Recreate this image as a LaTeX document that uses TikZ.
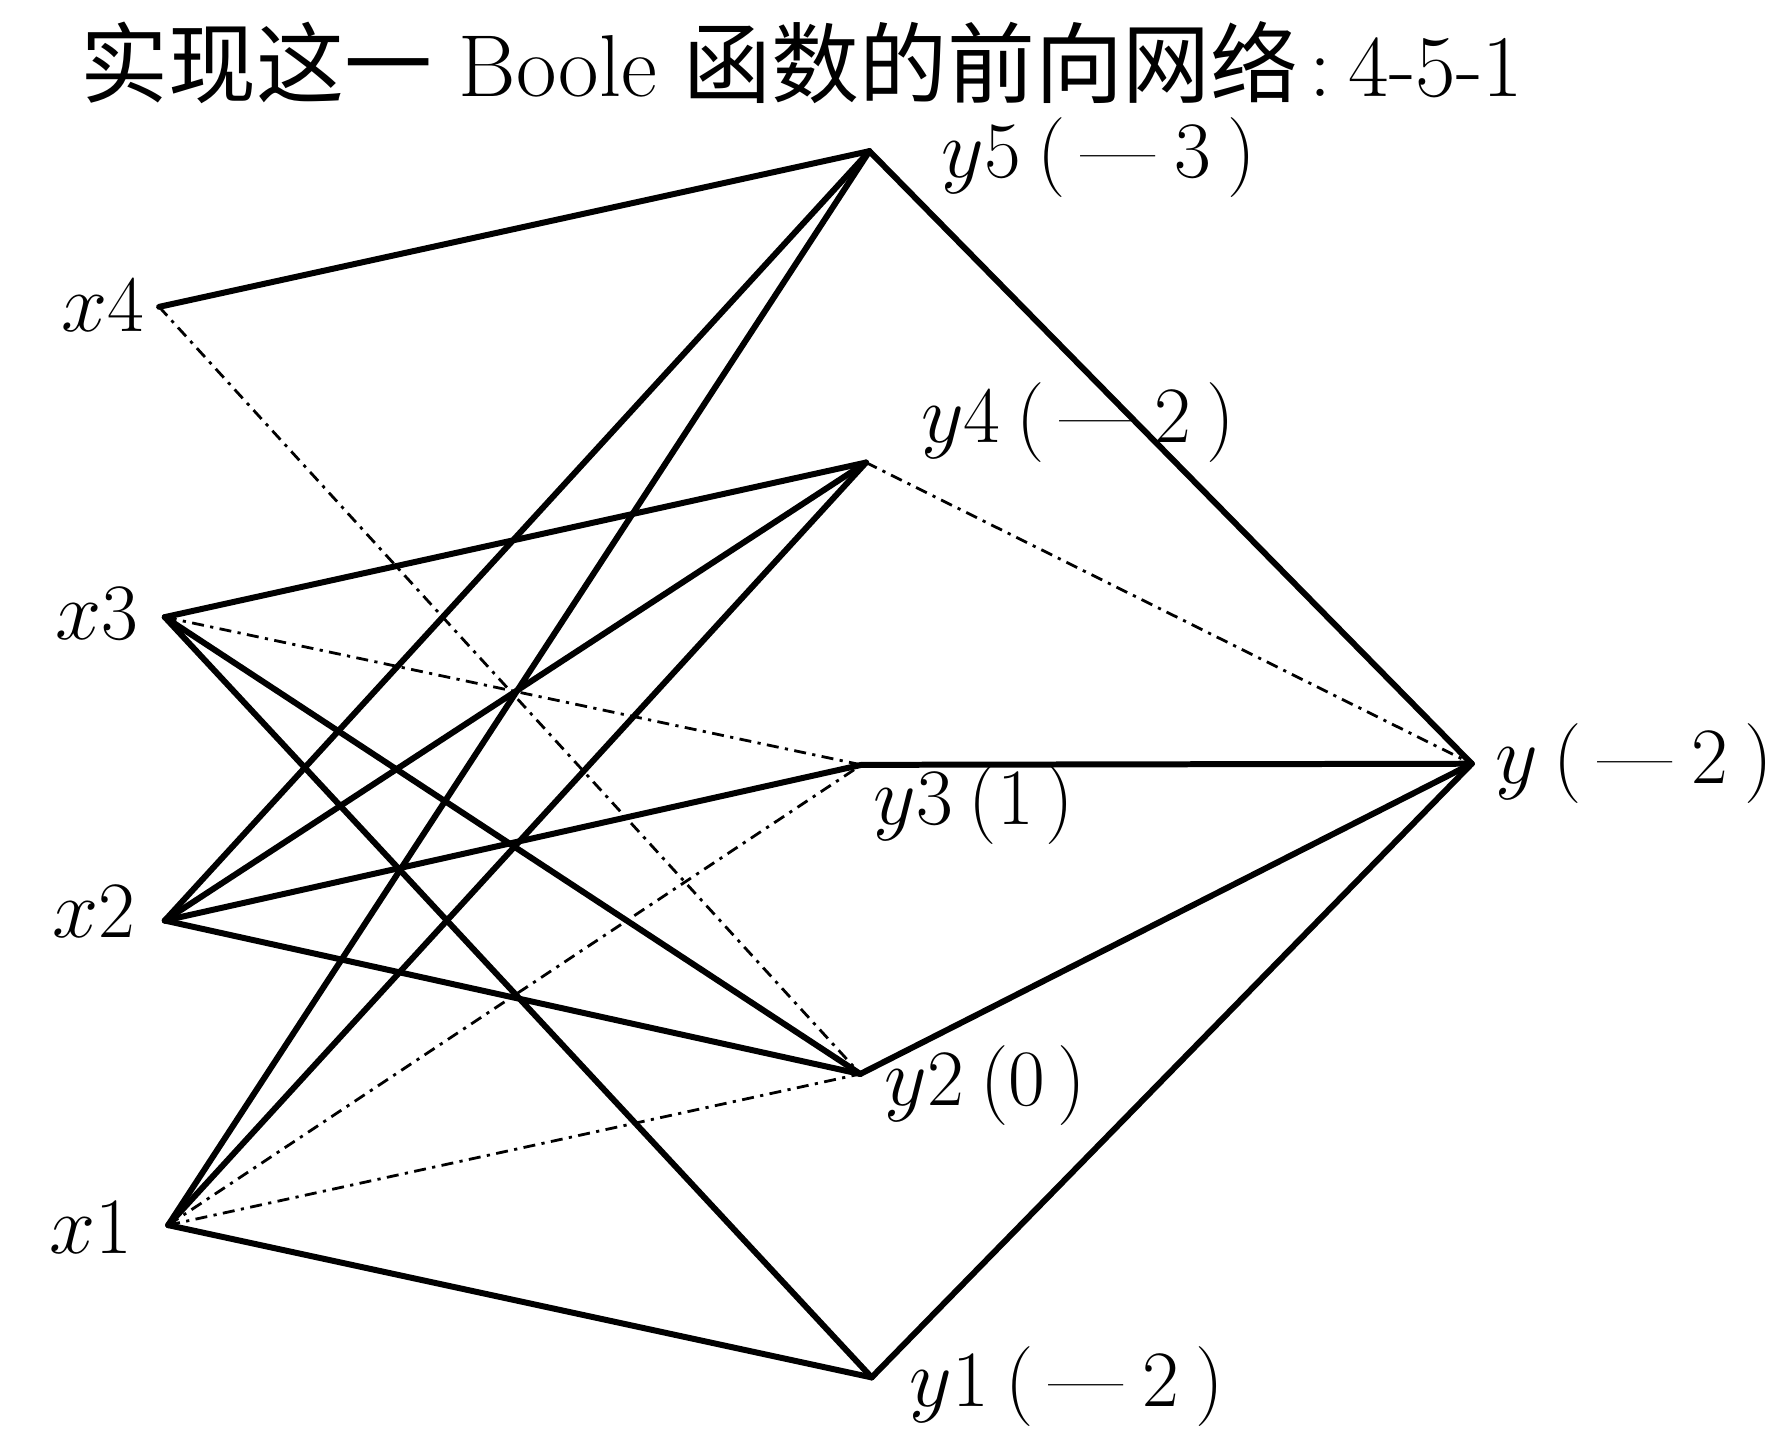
\documentclass[tikz,border=0pt]{standalone}
\usepackage{fontspec}
\newfontfamily\cjk{Noto Sans CJK SC}
\begin{document}
\begin{tikzpicture}[x=0.01cm,y=-0.01cm,
  solidedge/.style={line width=1.5pt,line cap=round,line join=round},
  dotedge/.style={line width=0.7pt,dash pattern=on 3pt off 1.6pt on 0.8pt off 1.6pt},
  lab/.style={inner sep=0pt,font=\fontsize{20}{24}\selectfont},
  titlelab/.style={inner sep=0pt,font=\fontsize{22}{26}\selectfont}]
\useasboundingbox (0,0) rectangle (1568,1266);
% vertices
\coordinate (x4) at (140,270);
\coordinate (x3) at (145,543);
\coordinate (x2) at (145,810);
\coordinate (x1) at (148,1078);
\coordinate (y5) at (765,133);
\coordinate (y4) at (762,407);
\coordinate (y3) at (758,673);
\coordinate (y2) at (757,945);
\coordinate (y1) at (767,1212);
\coordinate (y) at (1295,672);
% title
\node[titlelab,anchor=west] (title) at (70,55) {{\cjk 实现这一} Boole {\cjk 函数的前向网络}\hspace{0.12em}:\hspace{0.2em}4-5-1};
% labels
\node[lab,anchor=east] (lx4) at (128,268) {$x$4};
\node[lab,anchor=east] (lx3) at (122,540) {$x$3};
\node[lab,anchor=east] (lx2) at (120,802) {$x$2};
\node[lab,anchor=east] (lx1) at (117,1080) {$x$1};
\node[lab,anchor=west] (ly5) at (828,139) {$y$5\hspace{0.2em}(\hspace{0.2em}—\hspace{0.25em}3\hspace{0.2em})};
\node[lab,anchor=west] (ly4) at (810,372) {$y$4\hspace{0.2em}(\hspace{0.2em}—\hspace{0.25em}2\hspace{0.2em})};
\node[lab,anchor=west] (ly3) at (768,708) {$y$3\hspace{0.2em}(1\hspace{0.15em})};
\node[lab,anchor=west] (ly2) at (778,955) {$y$2\hspace{0.2em}(0\hspace{0.15em})};
\node[lab,anchor=west] (ly1) at (800,1220) {$y$1\hspace{0.2em}(\hspace{0.2em}—\hspace{0.25em}2\hspace{0.2em})};
\node[lab,anchor=west] (ly) at (1315,672) {$y$\hspace{0.2em}(\hspace{0.2em}—\hspace{0.25em}2\hspace{0.2em})};
% input to hidden
\draw[solidedge] (x4) -- (y5);
\draw[dotedge] (x4) -- (y2);
\draw[solidedge] (x3) -- (y4);
\draw[dotedge] (x3) -- (y3);
\draw[solidedge] (x3) -- (y2);
\draw[solidedge] (x3) -- (y1);
\draw[solidedge] (x2) -- (y5);
\draw[solidedge] (x2) -- (y4);
\draw[solidedge] (x2) -- (y3);
\draw[solidedge] (x2) -- (y2);
\draw[solidedge] (x1) -- (y5);
\draw[solidedge] (x1) -- (y4);
\draw[dotedge] (x1) -- (y3);
\draw[dotedge] (x1) -- (y2);
\draw[solidedge] (x1) -- (y1);
% hidden to output
\draw[solidedge] (y5) -- (y);
\draw[dotedge] (y4) -- (y);
\draw[solidedge] (y3) -- (y);
\draw[solidedge] (y2) -- (y);
\draw[solidedge] (y1) -- (y);
\end{tikzpicture}
\end{document}
